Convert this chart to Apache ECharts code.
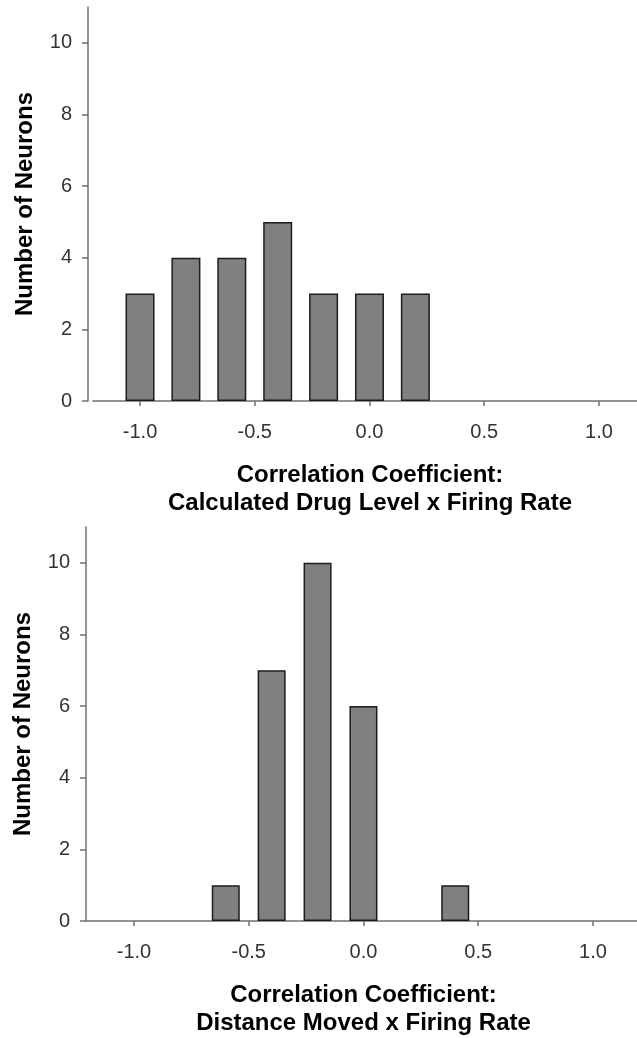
<!DOCTYPE html>
<html>
<head>
<meta charset="utf-8">
<script src="https://cdn.jsdelivr.net/npm/echarts@6/dist/echarts.min.js"></script>
<style>
  html, body { margin: 0; padding: 0; background: #fff; }
  #chart-container { width: 637px; height: 1038px; }
</style>
</head>
<body>
<div id="chart-container"></div>
<script>
// histogram bins (bin centres) and counts
var drugBins = [-1.0, -0.8, -0.6, -0.4, -0.2, 0.0, 0.2];
var drugCounts = [3, 4, 4, 5, 3, 3, 3];
var distBins = [-0.6, -0.4, -0.2, 0.0, 0.4];
var distCounts = [1, 7, 10, 6, 1];
var xTicks = [-1.0, -0.5, 0.0, 0.5, 1.0];
var yTicks = [0, 2, 4, 6, 8, 10];

var dom = document.getElementById('chart-container');
var myChart = echarts.init(dom, null, { renderer: 'canvas' });

var tickFont = {
  fontFamily: '"Liberation Sans Narrow", "Arial Narrow", "Liberation Sans", Arial, sans-serif',
  fontSize: 20,
  color: '#333'
};
var titleFont = {
  fontFamily: '"Liberation Sans", Arial, sans-serif',
  fontWeight: 'bold',
  fontSize: 24,
  color: '#000'
};
var lineCol = { color: '#707070', width: 1.5 };

function xAxisFor(idx, min, max, name, shift) {
  return {
    type: 'value',
    gridIndex: idx,
    min: min,
    max: max,
    axisLine: { show: true, onZero: false, lineStyle: lineCol },
    axisTick: { show: true, inside: false, length: 5, customValues: xTicks, lineStyle: lineCol },
    axisLabel: Object.assign({ margin: 21, customValues: xTicks, formatter: function (v) { return v.toFixed(1); } }, tickFont),
    splitLine: { show: false },
    name: name,
    nameLocation: 'middle',
    nameGap: 60,
    nameTextStyle: Object.assign({ lineHeight: 28, padding: [0, 0, 0, shift] }, titleFont)
  };
}

function yAxisFor(idx, offset) {
  return {
    type: 'value',
    gridIndex: idx,
    position: 'left',
    min: 0,
    max: 11,
    offset: offset,
    axisLine: { show: true, onZero: false, lineStyle: lineCol },
    axisTick: { show: true, length: 6, customValues: yTicks, lineStyle: lineCol },
    axisLabel: Object.assign({ margin: 16, customValues: yTicks }, tickFont),
    splitLine: { show: false },
    name: 'Number of Neurons',
    nameLocation: 'middle',
    nameGap: 51,
    nameTextStyle: titleFont
  };
}

function toPairs(bins, counts) {
  return bins.map(function (b, i) { return [b, counts[i]]; });
}

var barStyle = { color: '#808080', borderColor: '#1c1c1c', borderWidth: 1.5 };

var option = {
  animation: false,
  backgroundColor: '#fff',
  grid: [
    { left: 93, right: 0, top: 7, height: 394, outerBoundsMode: 'none', containLabel: false },
    { left: 86, right: 0, top: 527, height: 394, outerBoundsMode: 'none', containLabel: false }
  ],
  xAxis: [
    xAxisFor(0, -1.205, 1.166, 'Correlation Coefficient:\nCalculated Drug Level x Firing Rate', 10),
    xAxisFor(1, -1.209, 1.192, 'Correlation Coefficient:\nDistance Moved x Firing Rate', 4)
  ],
  yAxis: [yAxisFor(0, 5), yAxisFor(1, 0)],
  series: [
    {
      type: 'bar',
      xAxisIndex: 0,
      yAxisIndex: 0,
      barWidth: 29,
      itemStyle: barStyle,
      data: toPairs(drugBins, drugCounts)
    },
    {
      type: 'bar',
      xAxisIndex: 1,
      yAxisIndex: 1,
      barWidth: 28,
      itemStyle: barStyle,
      data: toPairs(distBins, distCounts)
    }
  ]
};

myChart.setOption(option);
window.addEventListener('resize', myChart.resize);
</script>
</body>
</html>
